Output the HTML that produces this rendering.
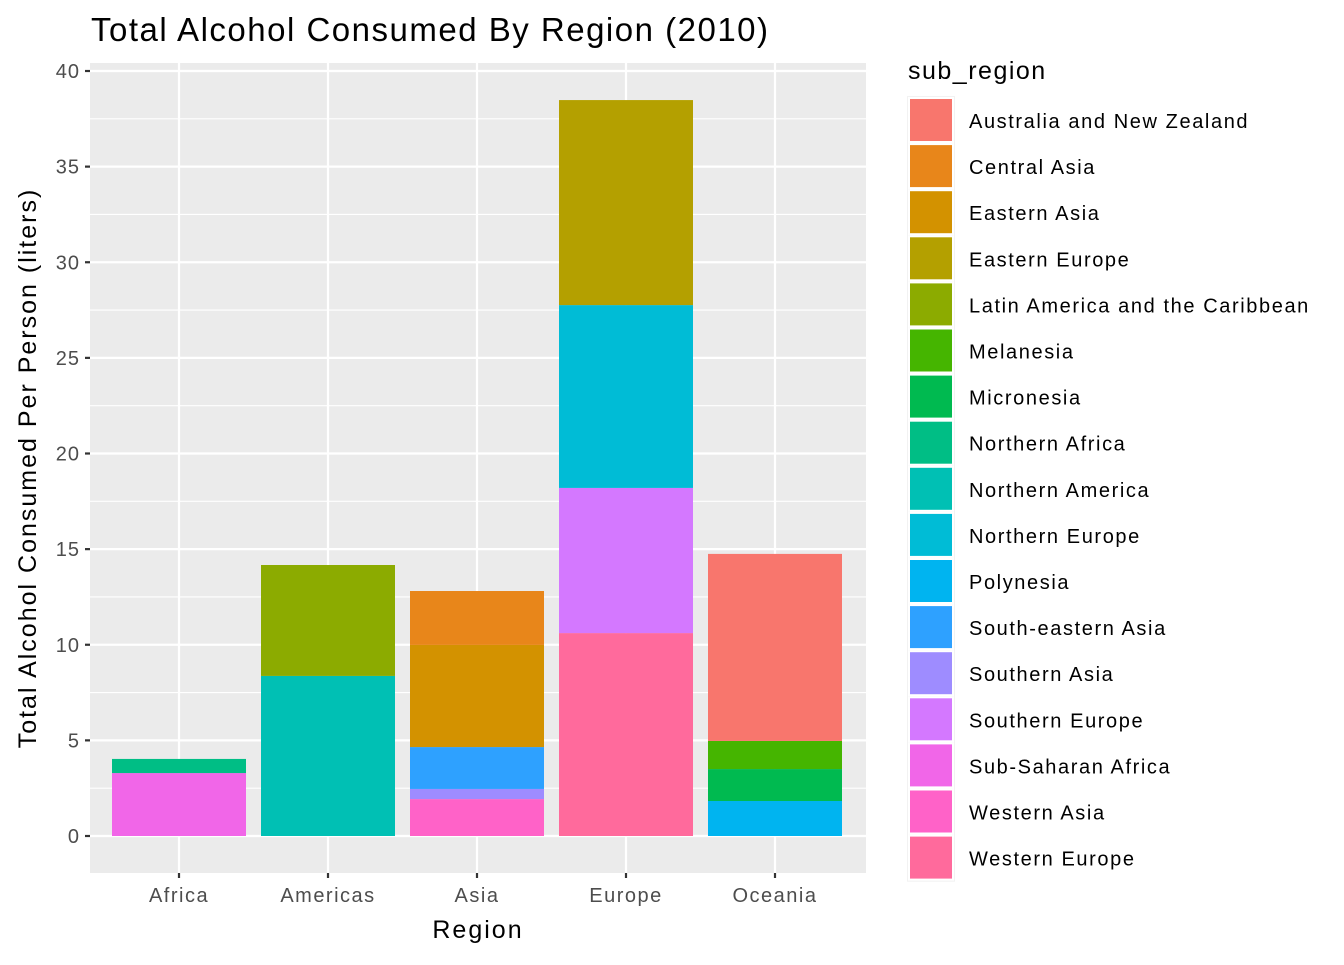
<!DOCTYPE html>
<html><head><meta charset="utf-8">
<style>
body{margin:0;background:#fff;font-family:"Liberation Sans",sans-serif;}
svg text{font-family:"Liberation Sans",sans-serif;}
</style></head>
<body>
<svg id="chart" width="1344" height="960" xmlns="http://www.w3.org/2000/svg">
<text x="91" y="41" font-size="33" letter-spacing="1.5" fill="#000">Total Alcohol Consumed By Region (2010)</text>
<g id="panel"></g>
<g id="legend"></g>
</svg>
<script>
const regions = ["Africa","Americas","Asia","Europe","Oceania"];
const subRegions = ["Australia and New Zealand","Central Asia","Eastern Asia","Eastern Europe","Latin America and the Caribbean","Melanesia","Micronesia","Northern Africa","Northern America","Northern Europe","Polynesia","South-eastern Asia","Southern Asia","Southern Europe","Sub-Saharan Africa","Western Asia","Western Europe"];
const colors = ["#F8766D","#E8861A","#D39200","#B4A000","#8CAB00","#45B500","#00BA50","#00BE85","#00C0B4","#00BCD6","#00B4F0","#2EA1FF","#9E8CFF","#D478FF","#F166E8","#FF62C8","#FF6A9C"];
// per-bar segments, bottom to top: [subRegion, value]
const africaVals = [["Sub-Saharan Africa",3.29],["Northern Africa",0.74]];
const americasVals = [["Northern America",8.37],["Latin America and the Caribbean",5.8]];
const asiaVals = [["Western Asia",1.93],["Southern Asia",0.53],["South-eastern Asia",2.19],["Eastern Asia",5.34],["Central Asia",2.82]];
const europeVals = [["Western Europe",10.61],["Southern Europe",7.59],["Northern Europe",9.56],["Eastern Europe",10.72]];
const oceaniaVals = [["Polynesia",1.83],["Micronesia",1.67],["Melanesia",1.47],["Australia and New Zealand",9.78]];
const yTicks = [0,5,10,15,20,25,30,35,40];

const NS="http://www.w3.org/2000/svg";
const PL=90,PR=866,PT=63,PB=873;
const y0=836, yPer=(836-71)/40;
const yS=v=>y0-v*yPer;
const step=149, xS=i=>179+i*step, bw=134;
function mk(tag,attrs,parent){const e=document.createElementNS(NS,tag);for(const k in attrs)e.setAttribute(k,attrs[k]);parent.appendChild(e);return e;}
const svg=document.getElementById('chart');
const panel=document.getElementById('panel');
const bg=mk('rect',{x:PL,y:PT,width:PR-PL,height:PB-PT,fill:'#EBEBEB'},panel);


for(let i=0;i<yTicks.length-1;i++){const v=(yTicks[i]+yTicks[i+1])/2;
 const l=mk('line',{x1:PL,x2:PR,y1:yS(v),y2:yS(v),stroke:'#fff','stroke-width':1.1},panel);
 
 }
yTicks.forEach(v=>{
 const l=mk('line',{x1:PL,x2:PR,y1:yS(v),y2:yS(v),stroke:'#fff','stroke-width':2.2},panel);
 
 
 const t=mk('line',{x1:PL-5,x2:PL,y1:yS(v),y2:yS(v),stroke:'#333','stroke-width':2.2},svg);
 
 
 const tx=mk('text',{x:PL-10,y:yS(v)+7,'text-anchor':'end','font-size':20,'letter-spacing':1,fill:'#4D4D4D'},svg);
 tx.textContent=v;
 
 
});
regions.forEach((r,i)=>{
 const l=mk('line',{x1:xS(i),x2:xS(i),y1:PT,y2:PB,stroke:'#fff','stroke-width':2.2},panel);
 
 
 const t=mk('line',{x1:xS(i),x2:xS(i),y1:PB,y2:PB+5,stroke:'#333','stroke-width':2.2},svg);
 
 
 const tx=mk('text',{x:xS(i),y:PB+29,'text-anchor':'middle','font-size':20,'letter-spacing':1.5,fill:'#4D4D4D'},svg);
 tx.textContent=r;
 
 
});
[africaVals,americasVals,asiaVals,europeVals,oceaniaVals].forEach((segs,i)=>{
 let cum=0;
 segs.forEach(([s,v])=>{
  const c=colors[subRegions.indexOf(s)];
  const b=mk('rect',{x:xS(i)-bw/2,y:yS(cum+v),width:bw,height:yS(cum)-yS(cum+v),fill:c},panel);
  
  
  cum+=v;
 });
});
const xt=mk('text',{x:(PL+PR)/2,y:938,'text-anchor':'middle','font-size':25,'letter-spacing':2,fill:'#000'},svg);
xt.textContent='Region';


const yt=mk('text',{x:0,y:0,'text-anchor':'middle','font-size':25,'letter-spacing':2,fill:'#000',transform:`translate(36,${(PT+PB)/2}) rotate(-90)`},svg);
yt.textContent='Total Alcohol Consumed Per Person (liters)';


const leg=document.getElementById('legend');


const lt=mk('text',{x:908,y:79,'font-size':25,'letter-spacing':1.5,fill:'#000'},leg);
lt.textContent='sub_region';


const lbg=mk('rect',{x:907,y:96,width:48,height:17*46.1+2,fill:'#F2F2F2'},leg);


subRegions.forEach((s,i)=>{
 const y=98+i*46.1;
 const k=mk('rect',{x:909,y:y,width:44,height:44,fill:colors[i],stroke:'#fff','stroke-width':2},leg);
 
 
 const t=mk('text',{x:969,y:y+30,'font-size':20,'letter-spacing':1.6,fill:'#000'},leg);
 t.textContent=s;
 
 
});
</script>
</body></html>
